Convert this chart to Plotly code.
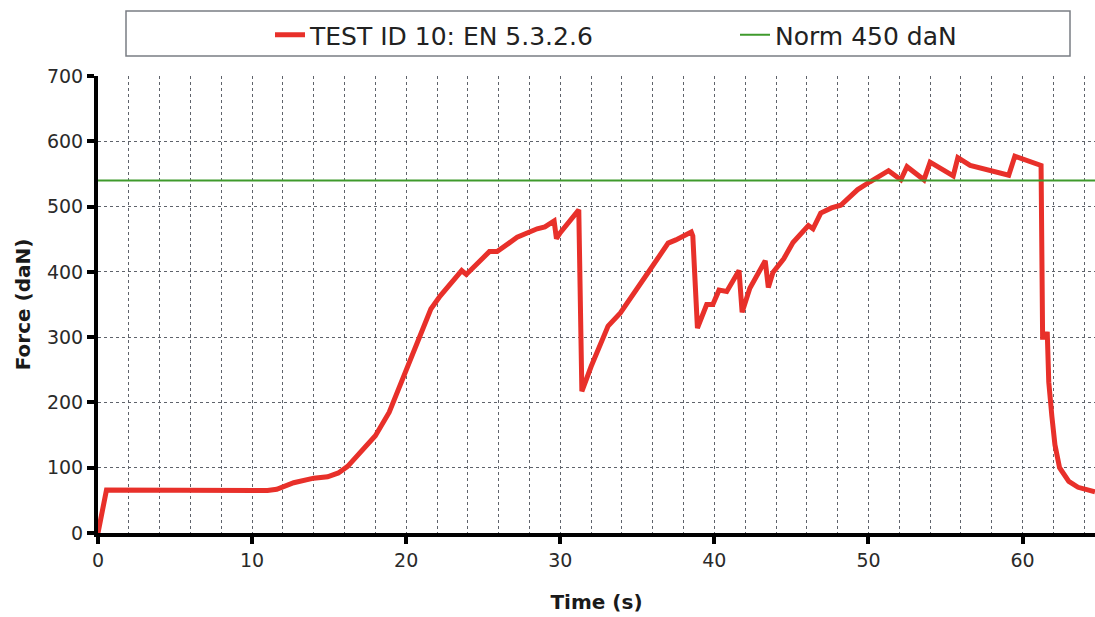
import plotly.graph_objects as go

# ---- data ----
time_s = [0, 0.55, 11.0, 11.6, 12.7, 14.0, 14.9, 15.6, 16.2, 17.1, 18.0, 18.9, 20.0,
          21.6, 22.2, 23.6, 23.9, 24.9, 25.4, 25.9, 27.2, 28.5, 29.0, 29.6,
          29.75, 30.0, 31.2, 31.4, 32.0, 33.1, 33.9, 35.7, 37.0, 37.5, 38.5, 38.6,
          38.9, 39.5, 39.9, 40.3, 40.8, 41.6, 41.8, 42.3, 43.3, 43.5, 43.8, 44.5,
          45.1, 46.1, 46.4, 46.9, 47.6, 48.2, 49.3, 50.1, 51.3, 52.1, 52.5, 53.6,
          54.0, 55.5, 55.8, 56.6, 59.1, 59.5, 60.1, 61.2, 61.3, 61.5, 61.6, 61.7,
          61.9, 62.1, 62.4, 63.0, 63.6, 64.7]
force_dan = [0, 66, 65, 67, 77, 84, 86, 92, 102, 126, 149, 185, 250,
             343, 363, 402, 396, 421, 431, 431, 453, 466, 469, 478,
             451, 460, 495, 217, 255, 317, 337, 399, 444, 449, 461, 455,
             314, 350, 350, 372, 370, 402, 338, 375, 417, 376, 399, 420,
             445, 471, 466, 490, 498, 502, 526, 538, 555, 541, 561, 541,
             568, 547, 575, 563, 548, 577, 572, 563, 300, 300, 308, 231,
             179, 135, 100, 79, 70, 63]
assert len(time_s) == len(force_dan)

norm_time = [0, 64.7]
norm_force = [540, 540]

series_test = "TEST ID 10: EN 5.3.2.6"
series_norm = "Norm 450 daN"

x_ticks = [0, 10, 20, 30, 40, 50, 60]
y_ticks = [0, 100, 200, 300, 400, 500, 600, 700]

FONT = "DejaVu Sans"
GRID = "#5f636b"

fig = go.Figure()
fig.add_trace(go.Scatter(x=time_s, y=force_dan, mode="lines", name=series_test,
                         line=dict(color="#e8302a", width=5), legend="legend"))
fig.add_trace(go.Scatter(x=norm_time, y=norm_force, mode="lines", name=series_norm,
                         line=dict(color="#3f9a2c", width=2), legend="legend2"))

W, H = 1095, 617
L, R, T, B = 98, 0, 76, 84
pw, ph = W - L - R, H - T - B

def px_x(p):
    return (p - L) / pw

def px_y(p):
    return 1 + (T - p) / ph

legend_font = dict(family=FONT, size=25, color="#222222")
fig.update_layout(
    width=W, height=H,
    margin=dict(l=L, r=R, t=T, b=B),
    paper_bgcolor="white", plot_bgcolor="white",
    font=dict(family=FONT, color="#222222", size=19),
    showlegend=True,
    legend=dict(orientation="h", x=px_x(270), xanchor="left",
                y=px_y(35), yanchor="middle", font=legend_font,
                bgcolor="rgba(0,0,0,0)", borderwidth=0),
    legend2=dict(orientation="h", x=px_x(735), xanchor="left",
                 y=px_y(35), yanchor="middle", font=legend_font,
                 bgcolor="rgba(0,0,0,0)", borderwidth=0),
    shapes=[dict(type="rect", xref="paper", yref="paper",
                 x0=px_x(126), x1=px_x(1070), y0=px_y(56), y1=px_y(11),
                 line=dict(color="#7a7d84", width=1.5), fillcolor="rgba(0,0,0,0)",
                 layer="below")],
)

fig.update_xaxes(
    range=[0, 64.7], tickvals=x_ticks, ticktext=[str(v) for v in x_ticks],
    showline=True, linecolor="black", linewidth=4,
    ticks="outside", ticklen=7, tickwidth=4, tickcolor="black",
    showgrid=True, gridcolor=GRID, gridwidth=1, griddash="dot",
    minor=dict(dtick=2, showgrid=True, gridcolor=GRID, gridwidth=1, griddash="dot"),
    zeroline=False,
    tickfont=dict(family=FONT, size=19, color="#2a2a2a"),
    title=dict(text="<b>Time (s)</b>", font=dict(family=FONT, size=20, color="#1a1a1a"),
               standoff=26),
)
fig.update_yaxes(
    range=[0, 700], tickvals=y_ticks, ticktext=[str(v) for v in y_ticks],
    showline=True, linecolor="black", linewidth=4,
    ticks="outside", ticklen=7, tickwidth=4, tickcolor="black",
    showgrid=True, gridcolor=GRID, gridwidth=1, griddash="dot",
    zeroline=False,
    tickfont=dict(family=FONT, size=19, color="#2a2a2a"),
    title=dict(text="<b>Force (daN)</b>", font=dict(family=FONT, size=20, color="#1a1a1a"),
               standoff=12),
)

fig.write_html("out.html")
